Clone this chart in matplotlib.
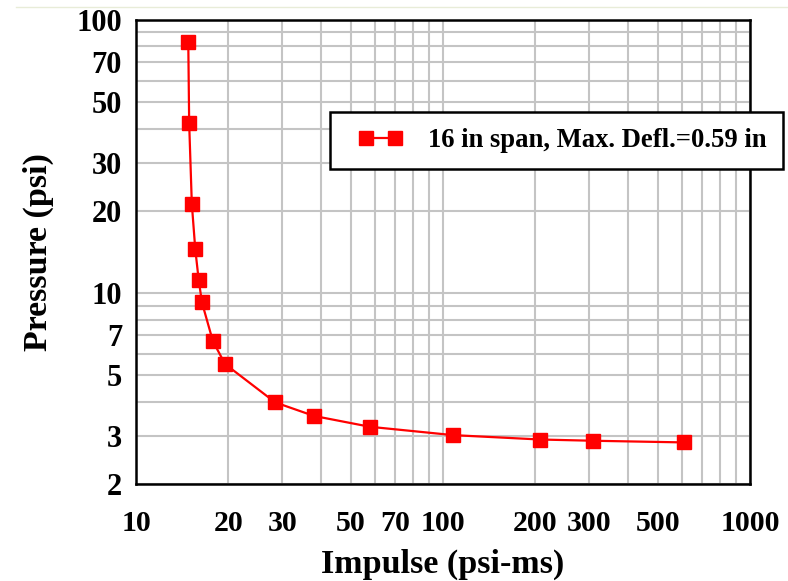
import matplotlib.pyplot as plt
from matplotlib.lines import Line2D
from matplotlib.legend_handler import HandlerLine2D
from matplotlib.ticker import FixedLocator, NullFormatter

# impulse (psi-ms) vs pressure (psi)
impulse = [14.8, 14.9, 15.2, 15.6, 16.0, 16.4, 17.8, 19.5, 28.4,
           38.0, 57.8, 107.8, 207.5, 308, 608]
pressure = [83.3, 41.9, 21.2, 14.45, 11.2, 9.24, 6.67, 5.50, 3.98,
            3.55, 3.24, 3.02, 2.91, 2.88, 2.84]
series_label = "16 in span, Max. Defl.=0.59 in"

x_ticks = [10, 20, 30, 50, 70, 100, 200, 300, 500, 1000]
y_ticks = [2, 3, 5, 7, 10, 20, 30, 50, 70, 100]

plt.rcParams['font.family'] = ['Liberation Serif', 'DejaVu Serif']
plt.rcParams['font.weight'] = 'bold'

fig = plt.figure(figsize=(7.88, 5.81), dpi=100)
ax = fig.add_axes([136/788, 1 - 484/581, (750 - 136)/788, (484 - 20)/581])

line, = ax.plot(impulse, pressure, color='#ff0000', lw=1.6, marker='s',
                markersize=10.5, markerfacecolor='#ff0000',
                markeredgecolor='#ff0000', label=series_label)

ax.set_xscale('log')
ax.set_yscale('log')
ax.set_xlim(10, 1000)
ax.set_ylim(2, 100)

# labelled ticks + a grid line at every minor decade step
ax.xaxis.set_major_locator(FixedLocator(x_ticks))
ax.yaxis.set_major_locator(FixedLocator(y_ticks))
ax.set_xticklabels([str(v) for v in x_ticks])
ax.set_yticklabels([str(v) for v in y_ticks])
minor_x = [m * d for d in (10, 100) for m in range(1, 10)]
minor_y = [m * d for d in (1, 10) for m in range(2, 10)]
ax.xaxis.set_minor_locator(FixedLocator(minor_x))
ax.yaxis.set_minor_locator(FixedLocator(minor_y))
ax.xaxis.set_minor_formatter(NullFormatter())
ax.yaxis.set_minor_formatter(NullFormatter())

ax.grid(True, which='both', color='#c4c4c4', lw=1.5)
ax.set_axisbelow(True)
ax.tick_params(which='both', length=0)
ax.tick_params(axis='x', labelsize=21.5, pad=19)
ax.tick_params(axis='y', labelsize=22, pad=10)
for sp in ax.spines.values():
    sp.set_linewidth(1.8)
    sp.set_color('black')

ax.set_xlabel("Impulse (psi-ms)", fontsize=24.5, fontweight='bold', labelpad=8)
ax.set_ylabel("Pressure (psi)", fontsize=24.5, fontweight='bold', labelpad=16)

leg = ax.legend(loc='upper right', bbox_to_anchor=(783/788, 1 - 112/581),
                bbox_transform=fig.transFigure, borderaxespad=0, numpoints=2,
                fancybox=False, framealpha=1, edgecolor='black',
                prop={'size': 19.2, 'weight': 'bold'}, handlelength=2.6,
                handletextpad=0.5, borderpad=0.6,
                handler_map={line: HandlerLine2D(numpoints=2, marker_pad=0.75)})
leg.get_frame().set_linewidth(1.8)

# faint slide border line at the top
fig.add_artist(Line2D([0.02, 1.0], [1 - 7/581, 1 - 7/581],
                      transform=fig.transFigure, color='#e8ecd8', lw=1))

fig.savefig('out.png', dpi=100)
